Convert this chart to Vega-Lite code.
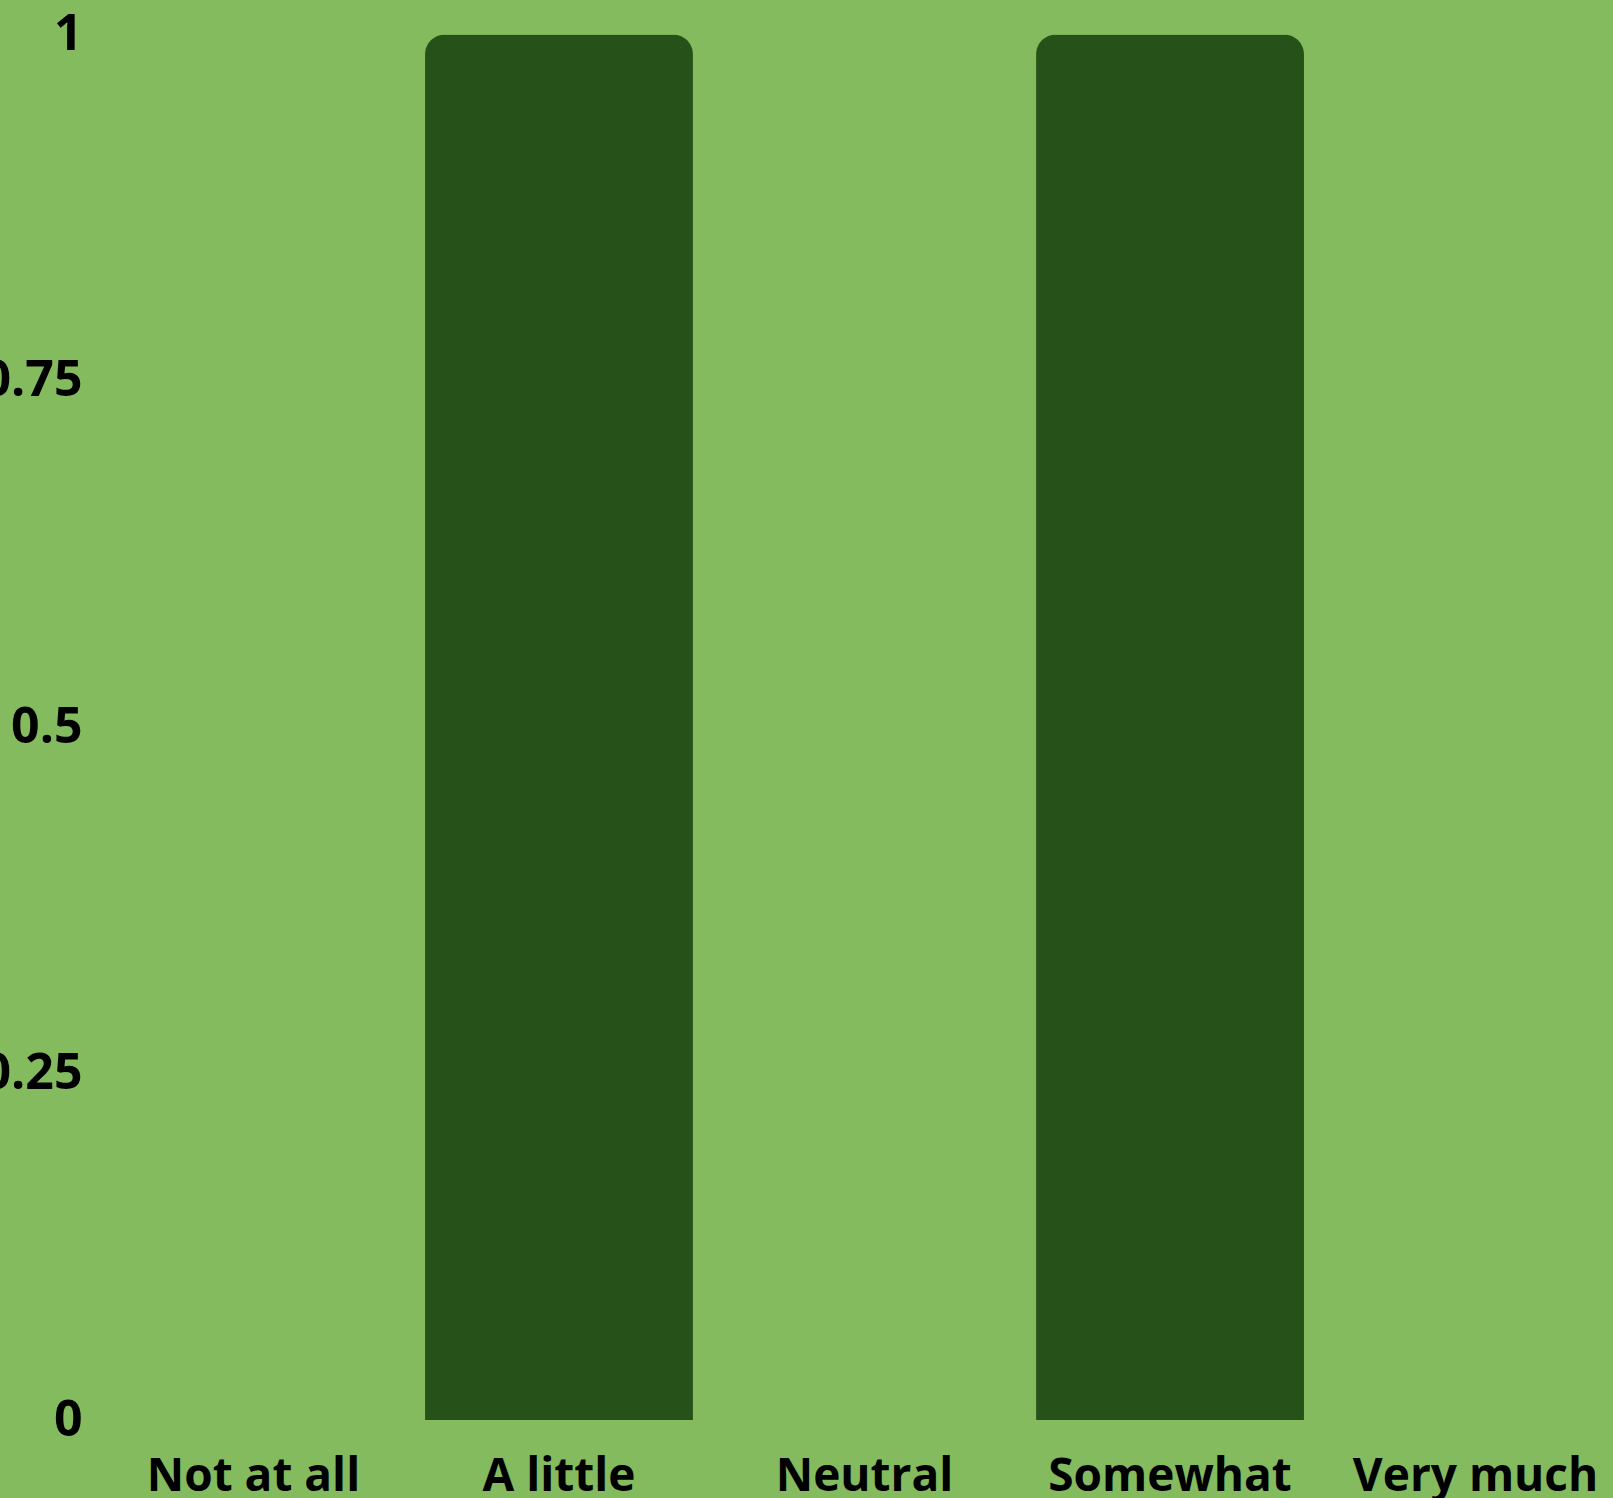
{
  "$schema": "https://vega.github.io/schema/vega-lite/v6.json",
  "autosize": "none",
  "width": 1497,
  "height": 1420,
  "padding": {"left": 116, "top": 0, "right": 0, "bottom": 78},
  "background": "#84BB5F",
  "data": {
    "values": [
      {"response": "Not at all", "count": 0},
      {"response": "A little", "count": 1},
      {"response": "Neutral", "count": 0},
      {"response": "Somewhat", "count": 1},
      {"response": "Very much", "count": 0}
    ]
  },
  "encoding": {
    "x": {
      "field": "response",
      "type": "nominal",
      "sort": null,
      "scale": {"paddingInner": 0.123, "paddingOuter": 0.0115},
      "axis": {
        "title": null,
        "labelAngle": 0,
        "labelFont": "Open Sans",
        "labelFontWeight": "bold",
        "labelFontSize": 46,
        "labelColor": "#000000",
        "labelPadding": 34,
        "labelLimit": 0,
        "labelOverlap": false,
        "ticks": false,
        "tickSize": 0,
        "domain": false,
        "grid": false
      }
    },
    "y": {
      "field": "count",
      "type": "quantitative",
      "scale": {"domain": [0, 1.0249], "nice": false},
      "axis": {
        "title": null,
        "values": [0, 0.25, 0.5, 0.75, 1],
        "labelExpr": "'' + datum.value",
        "labelFont": "Open Sans",
        "labelFontWeight": "bold",
        "labelFontSize": 50,
        "labelColor": "#000000",
        "labelPadding": 34,
        "labelLimit": 0,
        "labelOverlap": false,
        "ticks": false,
        "tickSize": 0,
        "domain": false,
        "grid": false
      }
    }
  },
  "layer": [
    {
      "mark": {"type": "bar", "color": "#265219", "cornerRadiusTopLeft": 20, "cornerRadiusTopRight": 20}
    },
    {
      "data": {"values": [{"label": "arise due to the disposal"}]},
      "mark": {
        "type": "text",
        "font": "Open Sans",
        "fontWeight": "bold",
        "fontSize": 125,
        "fill": "#DADADA",
        "baseline": "alphabetic",
        "align": "center",
        "dx": -15
      },
      "encoding": {
        "x": {"datum": "Neutral"},
        "y": {"datum": 1.0165},
        "text": {"field": "label"}
      }
    }
  ],
  "config": {"view": {"stroke": null}}
}
